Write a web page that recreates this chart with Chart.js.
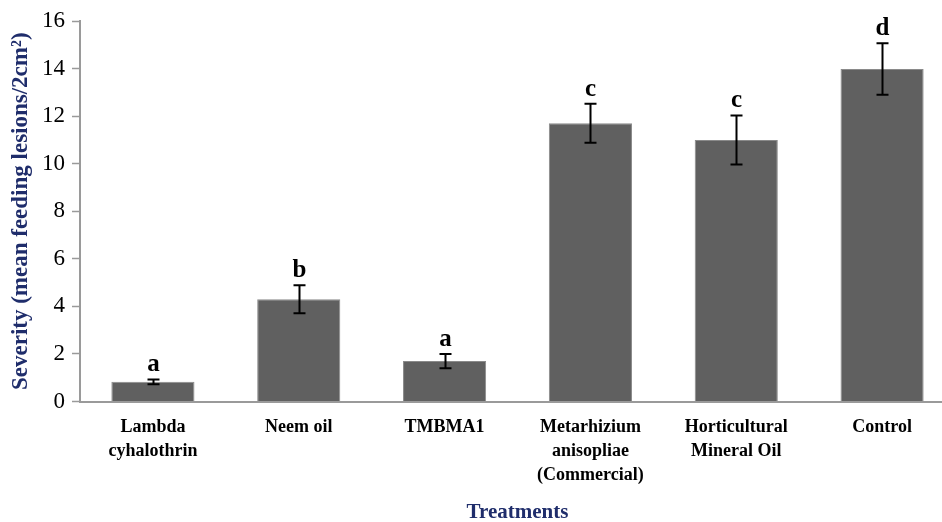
<!DOCTYPE html>
<html>
<head>
<meta charset="utf-8">
<script src="https://cdn.jsdelivr.net/npm/chart.js@4/dist/chart.umd.min.js"></script>
<style>
  html, body { margin: 0; padding: 0; background: #ffffff; overflow: hidden; }
  #wrap { width: 955px; height: 522px; }
</style>
</head>
<body>
<div id="wrap"><canvas id="c" width="955" height="522"></canvas></div>
<script>
const categories = [
  ['Lambda', 'cyhalothrin'],
  ['Neem oil'],
  ['TMBMA1'],
  ['Metarhizium', 'anisopliae', '(Commercial)'],
  ['Horticultural', 'Mineral Oil'],
  ['Control']
];
const severity = [0.83, 4.30, 1.70, 11.70, 11.00, 13.98];
const errors = [0.10, 0.59, 0.30, 0.82, 1.03, 1.08];
const letters = ['a', 'b', 'a', 'c', 'c', 'd'];
const yTicks = [0, 2, 4, 6, 8, 10, 12, 14, 16];

const navy = '#1f2d6b';
const axisGray = '#9a9a9a';
const serif = '"Liberation Serif", "Times New Roman", serif';

const errorBarPlugin = {
  id: 'errorBars',
  afterDatasetsDraw(chart) {
    const ctx = chart.ctx;
    const meta = chart.getDatasetMeta(0);
    const y = chart.scales.y;
    ctx.save();
    meta.data.forEach((bar, i) => {
      const x = Math.round(bar.x) + 0.5;
      const top = y.getPixelForValue(severity[i] + errors[i]);
      const bot = y.getPixelForValue(severity[i] - errors[i]);
      ctx.strokeStyle = '#000000';
      ctx.lineWidth = 2;
      ctx.beginPath();
      ctx.moveTo(x, top); ctx.lineTo(x, bot);
      ctx.moveTo(x - 6, top); ctx.lineTo(x + 6, top);
      ctx.moveTo(x - 6, bot); ctx.lineTo(x + 6, bot);
      ctx.stroke();
      ctx.fillStyle = '#000000';
      ctx.font = 'bold 25px ' + serif;
      ctx.textAlign = 'center';
      ctx.textBaseline = 'alphabetic';
      ctx.fillText(letters[i], x, top - 8);
    });
    ctx.restore();
  }
};

new Chart(document.getElementById('c'), {
  type: 'bar',
  data: {
    labels: categories,
    datasets: [{
      data: severity,
      backgroundColor: '#606060',
      borderColor: '#8a8a8a',
      borderWidth: 1,
      categoryPercentage: 1.0,
      barPercentage: 0.57
    }]
  },
  options: {
    responsive: false,
    animation: false,
    layout: { padding: { top: 21, right: 0, bottom: 0, left: 0 } },
    plugins: {
      legend: { display: false },
      tooltip: { enabled: false }
    },
    scales: {
      x: {
        offset: true,
        afterFit(scale) { scale.height = 120.5; },
        grid: { display: false, drawTicks: false },
        border: { display: true, color: axisGray, width: 2 },
        ticks: {
          color: '#000000',
          padding: 14,
          maxRotation: 0,
          autoSkip: false,
          font: { family: serif, size: 18, weight: 'bold', lineHeight: 1.33 }
        },
        title: {
          display: true,
          text: 'Treatments',
          color: navy,
          padding: { top: 0, bottom: -1 },
          font: { family: serif, size: 21, weight: 'bold', lineHeight: 1 }
        }
      },
      y: {
        min: 0,
        max: 16,
        afterFit(scale) { scale.width = 80; },
        afterBuildTicks(scale) { scale.ticks = yTicks.map(v => ({ value: v })); },
        grid: { display: true, drawOnChartArea: false, drawTicks: true, tickLength: 8, color: axisGray, tickWidth: 1.5 },
        border: { display: true, color: axisGray, width: 2 },
        ticks: {
          color: '#000000',
          padding: 7,
          font: { family: serif, size: 23 }
        },
        title: {
          display: true,
          text: 'Severity (mean feeding lesions/2cm²)',
          color: navy,
          padding: { top: 7, bottom: 0 },
          font: { family: serif, size: 23, weight: 'bold' }
        }
      }
    }
  },
  plugins: [errorBarPlugin]
});
</script>
</body>
</html>
